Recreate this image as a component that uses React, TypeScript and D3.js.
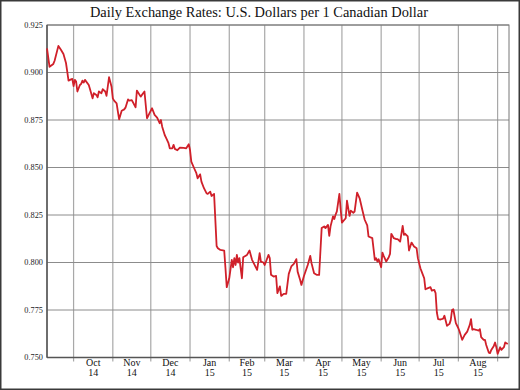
import { useRef, useEffect } from "react";
import * as d3 from "d3";

const title = "Daily Exchange Rates: U.S. Dollars per 1 Canadian Dollar";

const dates = [
  "2014-09-10", "2014-09-12", "2014-09-15", "2014-09-16", "2014-09-19", "2014-09-21", "2014-09-23", "2014-09-25", "2014-09-26", "2014-09-27", "2014-09-29", "2014-09-30",
  "2014-10-01", "2014-10-02", "2014-10-03", "2014-10-04", "2014-10-06", "2014-10-07", "2014-10-08", "2014-10-09", "2014-10-10", "2014-10-13", "2014-10-14", "2014-10-16", "2014-10-17", "2014-10-19", "2014-10-20", "2014-10-21", "2014-10-23", "2014-10-24", "2014-10-26", "2014-10-27", "2014-10-28", "2014-10-29", "2014-10-31",
  "2014-11-01", "2014-11-02", "2014-11-04", "2014-11-05", "2014-11-06", "2014-11-08", "2014-11-10", "2014-11-11", "2014-11-13", "2014-11-14", "2014-11-16", "2014-11-19", "2014-11-20", "2014-11-23", "2014-11-26", "2014-11-28", "2014-11-30",
  "2014-12-02", "2014-12-04", "2014-12-06", "2014-12-08", "2014-12-09", "2014-12-10", "2014-12-12", "2014-12-13", "2014-12-15", "2014-12-16", "2014-12-18", "2014-12-19", "2014-12-20", "2014-12-22", "2014-12-24", "2014-12-27", "2014-12-29", "2014-12-31",
  "2015-01-01", "2015-01-02", "2015-01-04", "2015-01-06", "2015-01-07", "2015-01-09", "2015-01-10", "2015-01-12", "2015-01-14", "2015-01-15", "2015-01-17", "2015-01-18", "2015-01-20", "2015-01-22", "2015-01-23", "2015-01-25", "2015-01-28", "2015-01-29", "2015-01-30",
  "2015-02-01", "2015-02-03", "2015-02-04", "2015-02-05", "2015-02-06", "2015-02-07", "2015-02-08", "2015-02-09", "2015-02-11", "2015-02-12", "2015-02-15", "2015-02-17", "2015-02-19", "2015-02-21", "2015-02-23", "2015-02-25", "2015-02-26", "2015-02-28",
  "2015-03-01", "2015-03-04", "2015-03-05", "2015-03-06", "2015-03-08", "2015-03-10", "2015-03-11", "2015-03-13", "2015-03-14", "2015-03-16", "2015-03-18", "2015-03-20", "2015-03-22", "2015-03-24", "2015-03-26", "2015-03-27", "2015-03-29", "2015-03-30",
  "2015-04-01", "2015-04-04", "2015-04-06", "2015-04-07", "2015-04-09", "2015-04-11", "2015-04-13", "2015-04-15", "2015-04-17", "2015-04-18", "2015-04-20", "2015-04-21", "2015-04-22", "2015-04-24", "2015-04-25", "2015-04-26", "2015-04-27", "2015-04-29", "2015-04-30",
  "2015-05-01", "2015-05-04", "2015-05-05", "2015-05-07", "2015-05-08", "2015-05-10", "2015-05-11", "2015-05-13", "2015-05-15", "2015-05-17", "2015-05-19", "2015-05-21", "2015-05-22", "2015-05-25", "2015-05-27", "2015-05-28", "2015-05-29", "2015-05-30",
  "2015-06-01", "2015-06-02", "2015-06-03", "2015-06-05", "2015-06-07", "2015-06-08", "2015-06-09", "2015-06-11", "2015-06-13", "2015-06-14", "2015-06-16", "2015-06-18", "2015-06-19", "2015-06-20", "2015-06-22", "2015-06-23", "2015-06-25", "2015-06-27", "2015-06-29", "2015-06-30",
  "2015-07-02", "2015-07-03", "2015-07-05", "2015-07-06", "2015-07-08", "2015-07-10", "2015-07-11", "2015-07-13", "2015-07-14", "2015-07-15", "2015-07-16", "2015-07-18", "2015-07-20", "2015-07-21", "2015-07-23", "2015-07-25", "2015-07-26", "2015-07-27", "2015-07-28", "2015-07-30",
  "2015-08-01", "2015-08-02", "2015-08-04", "2015-08-06", "2015-08-08", "2015-08-09", "2015-08-10", "2015-08-11", "2015-08-12", "2015-08-13", "2015-08-15", "2015-08-17", "2015-08-18", "2015-08-19", "2015-08-21", "2015-08-22", "2015-08-23", "2015-08-25", "2015-08-26", "2015-08-27", "2015-08-29", "2015-08-30", "2015-08-31",
  "2015-09-01", "2015-09-02", "2015-09-03", "2015-09-04", "2015-09-06", "2015-09-07", "2015-09-09",
];

const rates = [
  0.9127, 0.903, 0.9045, 0.9062, 0.914, 0.912, 0.9097, 0.905, 0.9004, 0.8957, 0.8964, 0.8966,
  0.8929, 0.8961, 0.8952, 0.89, 0.8934, 0.894, 0.8957, 0.8947, 0.8961, 0.8934, 0.8912, 0.8864, 0.8891, 0.8882, 0.887, 0.89, 0.8891, 0.8912, 0.89, 0.8877, 0.8925, 0.8975, 0.8925,
  0.8864, 0.8852, 0.8838, 0.8794, 0.8754, 0.8799, 0.8806, 0.8815, 0.8858, 0.8852, 0.8855, 0.8817, 0.8905, 0.8873, 0.89, 0.8759, 0.8786,
  0.8812, 0.8777, 0.8763, 0.8733, 0.875, 0.8715, 0.8671, 0.8657, 0.8628, 0.8601, 0.8601, 0.8619, 0.8598, 0.8591, 0.8605, 0.8603, 0.8601, 0.8622,
  0.8592, 0.8531, 0.85, 0.847, 0.8443, 0.8464, 0.8426, 0.8391, 0.8365, 0.8361, 0.8373, 0.835, 0.8361, 0.8087, 0.8075, 0.8066, 0.8063, 0.797, 0.787,
  0.7917, 0.8014, 0.7975, 0.8023, 0.7987, 0.804, 0.8, 0.8023, 0.7917, 0.8028, 0.804, 0.8063, 0.8014, 0.7987, 0.7961, 0.8049, 0.8005, 0.8,
  0.7987, 0.804, 0.8023, 0.7935, 0.7926, 0.7929, 0.7839, 0.7874, 0.7824, 0.7835, 0.7835, 0.794, 0.7979, 0.7993, 0.8018, 0.7952, 0.7908, 0.7882,
  0.7929, 0.7987, 0.8035, 0.7996, 0.7943, 0.7935, 0.7935, 0.8181, 0.819, 0.8181, 0.8198, 0.814, 0.819, 0.8243, 0.8229, 0.8252, 0.8269, 0.8361, 0.828,
  0.821, 0.8233, 0.8326, 0.8245, 0.8273, 0.8262, 0.8268, 0.8368, 0.8338, 0.828, 0.8225, 0.8195, 0.8137, 0.8128, 0.8014, 0.8023, 0.8005, 0.8017,
  0.7975, 0.8052, 0.8035, 0.8005, 0.8028, 0.8045, 0.8151, 0.8128, 0.8123, 0.8123, 0.811, 0.8193, 0.8146, 0.8151, 0.8137, 0.8063, 0.8105, 0.8084, 0.8075, 0.8023,
  0.797, 0.7952, 0.7917, 0.7859, 0.7865, 0.787, 0.7852, 0.7856, 0.7839, 0.7737, 0.7702, 0.77, 0.7705, 0.772, 0.7667, 0.7677, 0.7698, 0.775, 0.7754, 0.7681,
  0.7654, 0.7636, 0.7593, 0.7619, 0.7636, 0.7654, 0.7672, 0.7702, 0.7646, 0.7649, 0.7646, 0.7642, 0.7649, 0.7607, 0.7593, 0.7593, 0.7566, 0.7526, 0.7523, 0.754, 0.7561, 0.7579, 0.7554,
  0.7519, 0.7536, 0.7554, 0.754, 0.7554, 0.7579, 0.7571,
];

const yTicks = [0.75, 0.775, 0.8, 0.825, 0.85, 0.875, 0.9, 0.925];

// month gridlines and the labels that sit between them
const monthStarts = [
  "2014-10-01", "2014-11-01", "2014-12-01", "2015-01-01", "2015-02-01", "2015-03-01",
  "2015-04-01", "2015-05-01", "2015-06-01", "2015-07-01", "2015-08-01", "2015-09-01",
];
const monthNames = ["Oct", "Nov", "Dec", "Jan", "Feb", "Mar", "Apr", "May", "Jun", "Jul", "Aug"];
const monthYears = ["14", "14", "14", "15", "15", "15", "15", "15", "15", "15", "15"];

const parse = d3.timeParse("%Y-%m-%d");

export default function App() {
  const svgRef = useRef<SVGSVGElement>(null);
  const width = 520;
  const height = 390;

  useEffect(() => {
    if (!svgRef.current) return;
    const svg = d3.select(svgRef.current);
    svg.selectAll("*").remove();

    const margin = { top: 25, right: 11, bottom: 32.5, left: 47 };
    const w = width - margin.left - margin.right;
    const h = height - margin.top - margin.bottom;
    const font = "Liberation Serif";

    svg
      .append("rect")
      .attr("width", width)
      .attr("height", height)
      .attr("fill", "#fff");

    svg
      .append("rect")
      .attr("x", 0.75)
      .attr("y", 0.75)
      .attr("width", width - 1.5)
      .attr("height", height - 1.5)
      .attr("fill", "none")
      .attr("stroke", "#3a3a3a")
      .attr("stroke-width", 1.5);

    const g = svg
      .append("g")
      .attr("transform", `translate(${margin.left},${margin.top})`);

    const x = d3
      .scaleTime()
      .domain([parse("2014-09-10")!, parse("2015-09-10")!])
      .range([0, w]);
    const y = d3.scaleLinear().domain([0.75, 0.925]).range([h, 0]);

    const months = monthStarts.map((s) => parse(s)!);

    // vertical month lines, poking a little below the plot as ticks
    g.selectAll(".vgrid")
      .data(months)
      .join("line")
      .attr("x1", (d) => x(d))
      .attr("x2", (d) => x(d))
      .attr("y1", 0)
      .attr("y2", h + 4)
      .attr("stroke", "#a8a8a8")
      .attr("stroke-width", 1.2);

    g.selectAll(".hgrid")
      .data(yTicks)
      .join("line")
      .attr("x1", 0)
      .attr("x2", w)
      .attr("y1", (d) => y(d))
      .attr("y2", (d) => y(d))
      .attr("stroke", "#8c8c8c")
      .attr("stroke-width", 1);

    g.append("rect")
      .attr("width", w)
      .attr("height", h)
      .attr("fill", "none")
      .attr("stroke", "#777")
      .attr("stroke-width", 1);

    g.append("line")
      .attr("x1", 0)
      .attr("x2", 0)
      .attr("y1", 0)
      .attr("y2", h)
      .attr("stroke", "#555")
      .attr("stroke-width", 1.5);
    g.append("line")
      .attr("x1", 0)
      .attr("x2", w)
      .attr("y1", h)
      .attr("y2", h)
      .attr("stroke", "#555")
      .attr("stroke-width", 1.5);

    g.selectAll(".ylab")
      .data(yTicks)
      .join("text")
      .attr("x", -4)
      .attr("y", (d) => y(d))
      .attr("dy", "0.32em")
      .attr("text-anchor", "end")
      .attr("font-family", font)
      .attr("font-size", "8.3px")
      .attr("fill", "#222")
      .text((d) => d3.format(".3f")(d));

    monthNames.forEach((name, i) => {
      const cx = (x(months[i]) + x(months[i + 1])) / 2;
      g.append("text")
        .attr("x", cx)
        .attr("y", h + 8.5)
        .attr("text-anchor", "middle")
        .attr("font-family", font)
        .attr("font-size", "10px")
        .attr("fill", "#111")
        .text(name);
      g.append("text")
        .attr("x", cx)
        .attr("y", h + 18)
        .attr("text-anchor", "middle")
        .attr("font-family", font)
        .attr("font-size", "10px")
        .attr("fill", "#111")
        .text(monthYears[i]);
    });

    const points = dates.map((d, i) => [parse(d)!, rates[i]] as [Date, number]);
    const line = d3
      .line<[Date, number]>()
      .x((p) => x(p[0]))
      .y((p) => y(p[1]));

    g.append("path")
      .datum(points)
      .attr("fill", "none")
      .attr("stroke", "#d0202a")
      .attr("stroke-width", 1.8)
      .attr("stroke-linejoin", "round")
      .attr("d", line);

    svg
      .append("text")
      .attr("x", 259)
      .attr("y", 17.3)
      .attr("text-anchor", "middle")
      .attr("font-family", font)
      .attr("font-size", "14.4px")
      .attr("fill", "#111")
      .text(title);
  }, []);

  return (
    <svg
      ref={svgRef}
      width={width}
      height={height}
      style={{ position: "absolute", left: 0, top: 0, display: "block" }}
    />
  );
}
